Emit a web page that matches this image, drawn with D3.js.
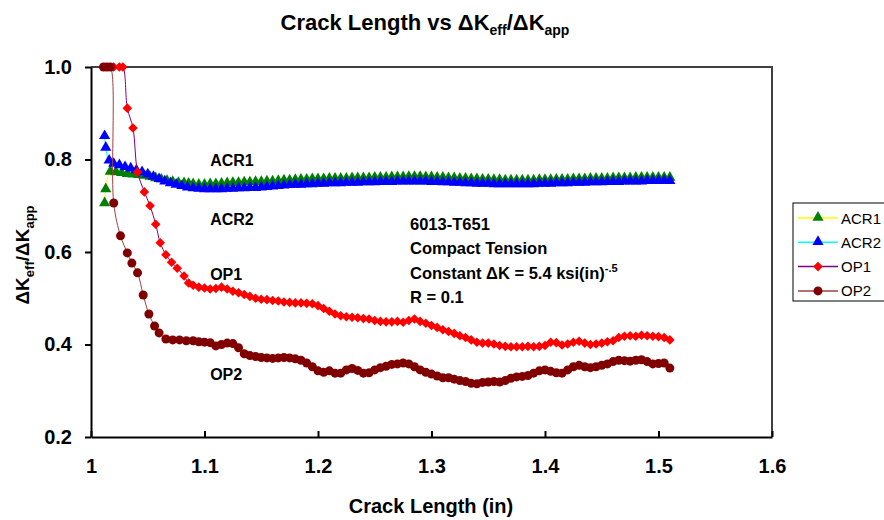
<!DOCTYPE html>
<html lang="en">
<head>
<meta charset="UTF-8">
<title>Crack Length vs dKeff/dKapp</title>
<script src="https://d3js.org/d3.v7.min.js"></script>
<style>
    body { margin: 0; background: #fff; font-family: "Liberation Sans", Arial, sans-serif; }
    .bold { font-weight: bold; }
    .axis text { font-family: "Liberation Sans", Arial, sans-serif; font-weight: bold; font-size: 20px; fill: #000; }
    .axis path, .axis line { stroke: #000; stroke-width: 2; }
</style>
</head>
<body>
<svg id="chart" width="884" height="520"></svg>
<script>
// grid of crack lengths shared by the tail of all four curves
const gridX = [
    1.090, 1.095, 1.100, 1.105, 1.110, 1.115, 1.120, 1.125, 1.130, 1.135,
    1.140, 1.145, 1.150, 1.155, 1.160, 1.165, 1.170, 1.175, 1.180, 1.185,
    1.190, 1.195, 1.200, 1.205, 1.210, 1.215, 1.220, 1.225, 1.230, 1.235,
    1.240, 1.245, 1.250, 1.255, 1.260, 1.265, 1.270, 1.275, 1.280, 1.285,
    1.290, 1.295, 1.300, 1.305, 1.310, 1.315, 1.320, 1.325, 1.330, 1.335,
    1.340, 1.345, 1.350, 1.355, 1.360, 1.365, 1.370, 1.375, 1.380, 1.385,
    1.390, 1.395, 1.400, 1.405, 1.410, 1.415, 1.420, 1.425, 1.430, 1.435,
    1.440, 1.445, 1.450, 1.455, 1.460, 1.465, 1.470, 1.475, 1.480, 1.485,
    1.490, 1.495, 1.500, 1.505, 1.510
];

// start of each curve (before the grid)
const acr1StartX = [1.012, 1.013, 1.017, 1.022, 1.027, 1.032, 1.037, 1.042, 1.047, 1.052, 1.057, 1.062, 1.067, 1.072, 1.077, 1.082, 1.086];
const acr1StartY = [0.705, 0.735, 0.773, 0.772, 0.770, 0.768, 0.767, 0.766, 0.764, 0.762, 0.759, 0.756, 0.753, 0.751, 0.749, 0.748, 0.747];
const acr2StartX = [1.012, 1.013, 1.016, 1.020, 1.025, 1.030, 1.035, 1.040, 1.045, 1.050, 1.055, 1.060, 1.065, 1.070, 1.075, 1.080, 1.085];
const acr2StartY = [0.850, 0.825, 0.797, 0.790, 0.787, 0.783, 0.780, 0.776, 0.772, 0.767, 0.762, 0.757, 0.752, 0.748, 0.745, 0.742, 0.739];
const op1StartX = [1.020, 1.025, 1.028, 1.032, 1.037, 1.041, 1.047, 1.052, 1.057, 1.061, 1.066, 1.071, 1.076, 1.082, 1.086];
const op1StartY = [1.000, 1.000, 1.000, 0.911, 0.868, 0.773, 0.730, 0.700, 0.660, 0.620, 0.594, 0.578, 0.565, 0.548, 0.533];
const op2StartX = [1.011, 1.014, 1.017, 1.020, 1.026, 1.032, 1.036, 1.041, 1.046, 1.051, 1.056, 1.060, 1.066, 1.072, 1.078, 1.084];
const op2StartY = [1.000, 1.000, 1.000, 0.706, 0.635, 0.598, 0.576, 0.555, 0.507, 0.466, 0.440, 0.425, 0.412, 0.410, 0.410, 0.408];

// values on gridX
const acr1Y = [
    0.746, 0.745, 0.745, 0.746, 0.746, 0.747, 0.748, 0.749, 0.749, 0.750,
    0.750, 0.751, 0.751, 0.752, 0.752, 0.753, 0.754, 0.754, 0.755, 0.756,
    0.756, 0.757, 0.757, 0.757, 0.758, 0.758, 0.758, 0.758, 0.759, 0.759,
    0.759, 0.759, 0.760, 0.760, 0.760, 0.761, 0.761, 0.761, 0.762, 0.762,
    0.762, 0.761, 0.761, 0.760, 0.760, 0.759, 0.759, 0.758, 0.758, 0.757,
    0.757, 0.756, 0.756, 0.755, 0.755, 0.754, 0.754, 0.754, 0.754, 0.754,
    0.754, 0.755, 0.755, 0.755, 0.756, 0.756, 0.756, 0.757, 0.757, 0.757,
    0.758, 0.758, 0.758, 0.758, 0.759, 0.759, 0.759, 0.759, 0.760, 0.760,
    0.760, 0.760, 0.760, 0.760, 0.760
];
const acr2Y = [
    0.737, 0.736, 0.735, 0.735, 0.735, 0.735, 0.736, 0.736, 0.737, 0.737,
    0.738, 0.738, 0.739, 0.740, 0.741, 0.742, 0.743, 0.744, 0.745, 0.745,
    0.746, 0.746, 0.747, 0.747, 0.748, 0.748, 0.748, 0.749, 0.749, 0.749,
    0.750, 0.750, 0.750, 0.751, 0.751, 0.751, 0.752, 0.752, 0.752, 0.752,
    0.752, 0.752, 0.751, 0.751, 0.750, 0.750, 0.749, 0.749, 0.748, 0.748,
    0.747, 0.747, 0.747, 0.746, 0.746, 0.746, 0.746, 0.746, 0.746, 0.746,
    0.746, 0.747, 0.747, 0.747, 0.748, 0.748, 0.748, 0.749, 0.749, 0.749,
    0.750, 0.750, 0.750, 0.751, 0.751, 0.751, 0.752, 0.752, 0.752, 0.752,
    0.753, 0.753, 0.753, 0.753, 0.753
];
const op1Y = [
    0.528, 0.524, 0.522, 0.520, 0.521, 0.524, 0.520, 0.515, 0.512, 0.508,
    0.504, 0.500, 0.498, 0.497, 0.495, 0.494, 0.492, 0.491, 0.490, 0.490,
    0.489, 0.488, 0.484, 0.478, 0.472, 0.466, 0.462, 0.460, 0.459, 0.458,
    0.456, 0.455, 0.452, 0.450, 0.449, 0.449, 0.450, 0.448, 0.452, 0.455,
    0.450, 0.446, 0.441, 0.437, 0.432, 0.428, 0.424, 0.419, 0.415, 0.410,
    0.405, 0.403, 0.403, 0.401, 0.398, 0.396, 0.395, 0.395, 0.395, 0.396,
    0.395, 0.396, 0.398, 0.405, 0.404, 0.399, 0.401, 0.405, 0.407, 0.403,
    0.400, 0.401, 0.403, 0.406, 0.408, 0.415, 0.418, 0.419, 0.418, 0.420,
    0.419, 0.418, 0.417, 0.415, 0.410
];
const op2Y = [
    0.408, 0.406, 0.405, 0.404, 0.397, 0.400, 0.403, 0.402, 0.393, 0.380,
    0.376, 0.374, 0.372, 0.371, 0.370, 0.371, 0.372, 0.371, 0.369, 0.366,
    0.360, 0.352, 0.343, 0.340, 0.343, 0.338, 0.338, 0.345, 0.348, 0.344,
    0.338, 0.339, 0.345, 0.350, 0.353, 0.357, 0.358, 0.360, 0.358, 0.352,
    0.345, 0.340, 0.336, 0.332, 0.328, 0.328, 0.325, 0.322, 0.320, 0.316,
    0.315, 0.318, 0.319, 0.320, 0.319, 0.322, 0.327, 0.330, 0.331, 0.333,
    0.338, 0.343, 0.345, 0.342, 0.339, 0.338, 0.345, 0.352, 0.355, 0.352,
    0.350, 0.352, 0.355, 0.358, 0.363, 0.366, 0.365, 0.364, 0.366, 0.367,
    0.363, 0.358, 0.359, 0.360, 0.349
];

const xTicks = [1, 1.1, 1.2, 1.3, 1.4, 1.5, 1.6];
const yTicks = [0.2, 0.4, 0.6, 0.8, 1.0];

function pts(xs, ys) { return xs.map((x, i) => ({ x: x, y: ys[i] })); }

const series = [
    { name: "ACR1", line: "#ffff00", fill: "#008000", shape: "tri", data: pts(acr1StartX.concat(gridX), acr1StartY.concat(acr1Y)) },
    { name: "ACR2", line: "#00ffff", fill: "#0000ff", shape: "tri", data: pts(acr2StartX.concat(gridX), acr2StartY.concat(acr2Y)) },
    { name: "OP1", line: "#800080", fill: "#ff0000", shape: "dia", data: pts(op1StartX.concat(gridX), op1StartY.concat(op1Y)) },
    { name: "OP2", line: "#a04040", fill: "#800000", shape: "cir", data: pts(op2StartX.concat(gridX), op2StartY.concat(op2Y)) }
];

const margin = { top: 67, left: 91 };
const width = 681, height = 370;

const svg = d3.select("#chart");
const g = svg.append("g").attr("transform", `translate(${margin.left},${margin.top})`);

const x = d3.scaleLinear().domain([1, 1.6]).range([0, width]);
const y = d3.scaleLinear().domain([0.2, 1.0]).range([height, 0]);

// top + right frame
g.append("path")
    .attr("d", `M0,0H${width}V${height}`)
    .attr("fill", "none")
    .attr("stroke", "#404040")
    .attr("stroke-width", 2);

g.append("g")
    .attr("class", "axis")
    .attr("transform", `translate(0,${height})`)
    .call(d3.axisBottom(x).tickValues(xTicks).tickFormat(d3.format("~g")).tickSizeInner(-6).tickSizeOuter(0).tickPadding(22));

g.append("g")
    .attr("class", "axis")
    .call(d3.axisLeft(y).tickValues(yTicks).tickFormat(d3.format(".1f")).tickSizeInner(6).tickSizeOuter(0).tickPadding(13));

function marker(sel, shape, fill) {
    if (shape === "cir") {
        sel.append("circle").attr("r", 4.5).attr("fill", fill);
    } else if (shape === "dia") {
        sel.append("path").attr("d", d3.symbol().type(d3.symbolSquare).size(46)()).attr("transform", "rotate(45)").attr("fill", fill);
    } else {
        sel.append("path").attr("d", d3.symbol().type(d3.symbolTriangle).size(54)()).attr("transform", "translate(0,-0.5)").attr("fill", fill);
    }
}

const line = d3.line().x(d => x(d.x)).y(d => y(d.y)).curve(d3.curveCatmullRom.alpha(0.5));

series.forEach(s => {
    g.append("path")
        .datum(s.data)
        .attr("d", line)
        .attr("fill", "none")
        .attr("stroke", s.line)
        .attr("stroke-width", 1);
    g.append("g").selectAll("g")
        .data(s.data)
        .enter().append("g")
        .attr("transform", d => `translate(${x(d.x)},${y(d.y)})`)
        .each(function () { marker(d3.select(this), s.shape, s.fill); });
});

// title
const title = svg.append("text")
    .attr("x", 425).attr("y", 30)
    .attr("text-anchor", "middle")
    .attr("class", "bold")
    .style("font-size", "22px");
title.append("tspan").text("Crack Length vs \u0394K");
title.append("tspan").text("eff").style("font-size", "14px").attr("dy", 5);
title.append("tspan").text("/\u0394K").attr("dy", -5);
title.append("tspan").text("app").style("font-size", "14px").attr("dy", 5);

// y label
const ylab = svg.append("text")
    .attr("transform", "translate(29,255) rotate(-90)")
    .attr("text-anchor", "middle")
    .attr("class", "bold")
    .style("font-size", "19px");
ylab.append("tspan").text("\u0394K");
ylab.append("tspan").text("eff").style("font-size", "13px").attr("dy", 5);
ylab.append("tspan").text("/\u0394K").attr("dy", -5);
ylab.append("tspan").text("app").style("font-size", "13px").attr("dy", 5);

// x label
svg.append("text")
    .attr("x", 431).attr("y", 513)
    .attr("text-anchor", "middle")
    .attr("class", "bold")
    .style("font-size", "20px")
    .text("Crack Length (in)");

// curve labels
const curveLabels = [
    { t: "ACR1", x: 1.105, y: 0.785 },
    { t: "ACR2", x: 1.105, y: 0.658 },
    { t: "OP1", x: 1.105, y: 0.540 },
    { t: "OP2", x: 1.105, y: 0.324 }
];
g.selectAll(".clabel")
    .data(curveLabels)
    .enter().append("text")
    .attr("class", "bold")
    .attr("x", d => x(d.x))
    .attr("y", d => y(d.y))
    .style("font-size", "16px")
    .text(d => d.t);

// specimen note
const note = svg.append("text").attr("class", "bold").style("font-size", "16.5px");
note.append("tspan").attr("x", 410).attr("y", 230).text("6013-T651");
note.append("tspan").attr("x", 410).attr("y", 254).text("Compact Tension");
note.append("tspan").attr("x", 410).attr("y", 279).text("Constant \u0394K = 5.4 ksi(in)");
note.append("tspan").attr("dy", -7).style("font-size", "11px").text("-.5");
note.append("tspan").attr("x", 410).attr("y", 303).text("R = 0.1");

// legend
const legend = svg.append("g").attr("transform", "translate(793,203)");
legend.append("rect")
    .attr("width", 100).attr("height", 98)
    .attr("fill", "#fff").attr("stroke", "#000").attr("stroke-width", 1);
series.forEach((s, i) => {
    const row = legend.append("g").attr("transform", `translate(0,${15 + i * 24.3})`);
    row.append("line").attr("x1", 5).attr("x2", 45).attr("stroke", s.line).attr("stroke-width", 1.5);
    const m = row.append("g").attr("transform", "translate(25,0)");
    marker(m, s.shape, s.fill);
    row.append("text").attr("x", 48).attr("y", 5.5).style("font-size", "15px").text(s.name);
});
</script>
</body>
</html>
